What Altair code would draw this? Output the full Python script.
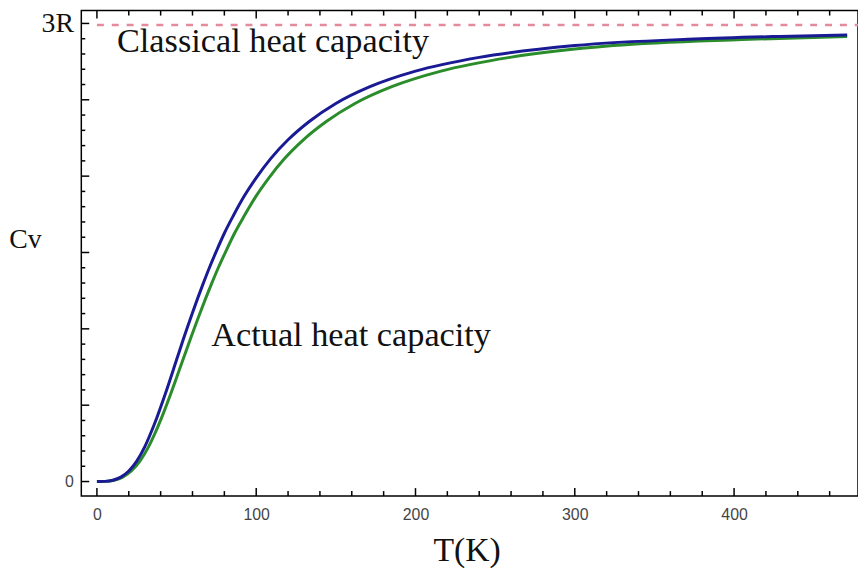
import altair as alt
import pandas as pd

# ---- data (Cv in units of R, T in K) ----
T_blue = [0, 5, 10, 15, 20, 25, 30, 33.3, 37.5, 42.9, 50, 54.5, 60, 66.7, 70.6, 75, 80,
          85.7, 92.3, 100, 109.1, 120, 133.3, 150, 171.4, 200, 240, 300, 375, 428.6, 471]
Cv_blue = [0, 0.0011, 0.0087, 0.029, 0.069, 0.134, 0.227, 0.305, 0.415, 0.573, 0.797,
           0.940, 1.106, 1.296, 1.40, 1.509, 1.626, 1.742, 1.866, 1.989, 2.115, 2.238,
           2.358, 2.476, 2.586, 2.688, 2.778, 2.855, 2.898, 2.915, 2.925]
T_green = [0, 5.4, 10.8, 16.2, 21.6, 27, 32.4, 36, 40.5, 46.3, 54, 58.9, 64.8, 72, 76.2,
           81, 86.4, 92.6, 99.7, 108, 117.8, 129.6, 144, 162, 185.1, 216, 259.2, 324,
           405, 471]
Cv_green = [0, 0.0011, 0.0087, 0.029, 0.069, 0.134, 0.227, 0.305, 0.415, 0.573, 0.797,
            0.940, 1.106, 1.296, 1.40, 1.509, 1.626, 1.742, 1.866, 1.989, 2.115, 2.238,
            2.358, 2.476, 2.586, 2.688, 2.778, 2.855, 2.895, 2.915]
classical_T = [0, 478]
classical_Cv = [2.99, 2.99]

x_major = [0, 100, 200, 300, 400]
x_minor = [v for v in range(20, 480, 20) if v % 100 != 0]
y_major = [0, 0.5, 1.0, 1.5, 2.0, 2.5, 3.0]
y_minor = [round(i * 0.1, 1) for i in range(1, 30) if i % 5 != 0]

W, H = 784, 490
xs = alt.Scale(domain=[-9.8, 477.8], nice=False, zero=False)
ys = alt.Scale(domain=[-0.095, 3.084], nice=False, zero=False)

blue = pd.DataFrame({"T": T_blue, "Cv": Cv_blue})
green = pd.DataFrame({"T": T_green, "Cv": Cv_green})
classical = pd.DataFrame({"T": classical_T, "Cv": classical_Cv})

x_axis = alt.Axis(values=x_major, ticks=False, domain=False, grid=False,
                  labelFont="Liberation Sans", labelFontSize=16, labelColor="#444",
                  labelPadding=11, title="T(K)", titleFont="Liberation Serif",
                  titleFontSize=34, titleFontWeight="normal", titleColor="#111",
                  titleX=389, titleY=65, titleBaseline="alphabetic", titleAlign="center")
y_axis = alt.Axis(values=[0, 3], ticks=False, domain=False, grid=False,
                  labelExpr="datum.value == 3 ? '3R' : '0'",
                  labelFont={"condition": {"test": "datum.value == 3", "value": "Liberation Serif"},
                             "value": "Liberation Sans"},
                  labelFontSize={"condition": {"test": "datum.value == 3", "value": 28},
                                 "value": 16},
                  labelColor={"condition": {"test": "datum.value == 3", "value": "#111"},
                              "value": "#444"},
                  labelPadding=8, labelBaseline="middle",
                  title="Cv", titleFont="Liberation Serif", titleFontSize=28,
                  titleFontWeight="normal", titleColor="#111", titleAngle=0,
                  titleX=-57, titleY=239, titleBaseline="alphabetic", titleAlign="center")

base_x = alt.X("T:Q", scale=xs, axis=x_axis)
base_y = alt.Y("Cv:Q", scale=ys, axis=y_axis)

green_line = alt.Chart(green).mark_line(color="#2a8c2a", strokeWidth=3, interpolate="monotone").encode(
    x=base_x, y=base_y)
blue_line = alt.Chart(blue).mark_line(color="#1a1a94", strokeWidth=3, interpolate="monotone").encode(
    x=base_x, y=base_y)
dashed = alt.Chart(classical).mark_line(color="#e58a9c", strokeWidth=2.6, strokeDash=[7, 8]).encode(
    x=base_x, y=base_y)

xmaj = pd.DataFrame({"T": x_major})
xmin = pd.DataFrame({"T": x_minor})
ymaj = pd.DataFrame({"Cv": y_major})
ymin = pd.DataFrame({"Cv": y_minor})

tick_style = dict(color="black", strokeWidth=1.5)
ticks = [
    alt.Chart(xmaj).mark_rule(**tick_style).encode(x=alt.X("T:Q", scale=xs), y=alt.value(H), y2=alt.value(H - 8)),
    alt.Chart(xmin).mark_rule(**tick_style).encode(x=alt.X("T:Q", scale=xs), y=alt.value(H), y2=alt.value(H - 5)),
    alt.Chart(xmaj).mark_rule(**tick_style).encode(x=alt.X("T:Q", scale=xs), y=alt.value(0), y2=alt.value(8)),
    alt.Chart(xmin).mark_rule(**tick_style).encode(x=alt.X("T:Q", scale=xs), y=alt.value(0), y2=alt.value(5)),
    alt.Chart(ymaj).mark_rule(**tick_style).encode(y=alt.Y("Cv:Q", scale=ys), x=alt.value(0), x2=alt.value(8)),
    alt.Chart(ymin).mark_rule(**tick_style).encode(y=alt.Y("Cv:Q", scale=ys), x=alt.value(0), x2=alt.value(4)),
]

ann_style = dict(font="Liberation Serif", fontSize=34.6, color="#111", align="left", baseline="alphabetic")
classical_text = alt.Chart().mark_text(text="Classical heat capacity", **ann_style).encode(
    x=alt.datum(12.6), y=alt.datum(2.81))
actual_text = alt.Chart().mark_text(text="Actual heat capacity", **ann_style).encode(
    x=alt.datum(71.8), y=alt.datum(0.89))

chart = alt.layer(green_line, blue_line, dashed, *ticks, classical_text, actual_text).properties(
    width=W, height=H,
    background="white",
    autosize=alt.AutoSizeParams(type="none"),
    padding={"left": 74, "top": 0, "right": 0, "bottom": 71},
).configure_view(stroke="black", strokeWidth=1.5)

chart.save("out.html", embed_options={"renderer": "svg", "actions": False})
